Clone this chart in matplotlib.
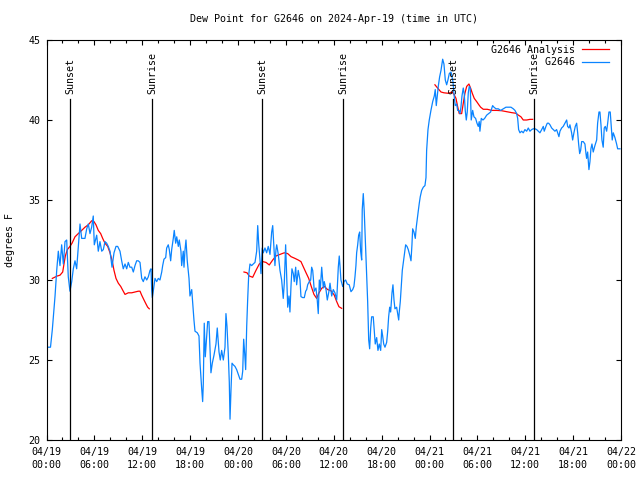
import matplotlib
matplotlib.use('Agg')
import matplotlib.pyplot as plt
from matplotlib.ticker import FixedLocator, MultipleLocator

nan = float('nan')

# hours since 2024-04-19 00:00 UTC, dew point in deg F
obs_hours = [0.00, 0.50, 0.73, 1.07, 1.28, 1.48, 1.69, 1.90, 2.11, 2.32, 2.53, 2.73, 2.94, 3.16, 3.36, 3.57,
             3.78, 3.98, 4.20, 4.41, 4.82, 5.04, 5.24, 5.45, 5.66, 5.86, 5.99, 6.29, 6.49, 6.70, 6.92, 7.12,
             7.33, 7.54, 7.74, 7.96, 8.21, 8.46, 8.71, 8.92, 9.21, 9.42, 9.62, 9.84, 10.05, 10.25, 10.46, 10.68,
             10.88, 11.09, 11.30, 11.50, 11.72, 11.93, 12.13, 12.34, 12.56, 12.76, 12.97, 13.10, 13.18, 13.26,
             13.38, 13.60, 13.81, 14.01, 14.22, 14.44, 14.56, 14.72, 14.94, 15.06, 15.26, 15.39, 15.56, 15.69,
             15.89, 16.01, 16.19, 16.32, 16.52, 16.64, 16.85, 16.94, 17.14, 17.23, 17.36, 17.48, 17.64, 17.86,
             17.98, 18.20, 18.32, 18.48, 18.61, 18.90, 19.11, 19.24, 19.45, 19.57, 19.65, 19.77, 19.90, 20.08,
             20.20, 20.36, 20.49, 20.61, 20.78, 20.99, 21.24, 21.40, 21.62, 21.78, 21.95, 22.16, 22.37, 22.49,
             22.62, 22.78, 22.91, 23.00, 23.12, 23.25, 23.41, 23.62, 23.83, 24.04, 24.25, 24.46, 24.59, 24.71,
             24.84, 24.96, 25.09, 25.21, 25.34, 25.50, 25.71, 25.91, 26.13, 26.34, 26.47, 26.59, 26.75, 26.88,
             27.04, 27.17, 27.38, 27.59, 27.79, 28.01, 28.22, 28.35, 28.47, 28.63, 28.76, 28.85, 29.05, 29.26,
             29.47, 29.67, 29.80, 29.97, 30.10, 30.23, 30.39, 30.51, 30.64, 30.76, 30.93, 31.05, 31.23, 31.35,
             31.55, 31.77, 31.89, 32.11, 32.31, 32.48, 32.61, 32.73, 32.93, 33.11, 33.23, 33.36, 33.43, 33.56,
             33.77, 33.93, 34.06, 34.19, 34.31, 34.49, 34.69, 34.81, 35.03, 35.19, 35.40, 35.53, 35.74, 35.94,
             36.15, 36.37, 36.57, 36.69, 36.78, 36.90, 37.12, 37.19, 37.28, 37.49, 37.69, 37.94, 38.16, 38.37,
             38.53, 38.66, 38.78, 38.87, 39.00, 39.12, 39.25, 39.37, 39.50, 39.57, 39.70, 39.82, 39.95, 40.08,
             40.25, 40.38, 40.50, 40.63, 40.75, 40.95, 41.08, 41.20, 41.38, 41.54, 41.70, 41.88, 42.01, 42.13,
             42.26, 42.42, 42.63, 42.76, 42.88, 43.01, 43.13, 43.30, 43.42, 43.55, 43.67, 43.88, 44.01, 44.14,
             44.21, 44.34, 44.46, 44.59, 44.76, 44.89, 45.01, 45.18, 45.34, 45.55, 45.68, 45.80, 45.89, 46.05,
             46.22, 46.34, 46.47, 46.59, 46.72, 46.84, 47.02, 47.22, 47.43, 47.56, 47.64, 47.81, 47.97, 48.18,
             48.40, 48.60, 48.72, 48.85, 48.97, 49.10, 49.27, 49.44, 49.65, 49.81, 49.98, 50.15, 50.31, 50.48,
             50.69, 50.81, 50.94, 51.07, 51.23, 51.40, 51.53, 51.69, 51.82, 51.94, 52.07, 52.23, 52.36, 52.48,
             52.61, 52.73, 52.86, 52.98, 53.11, 53.23, 53.41, 53.57, 53.78, 53.95, 54.11, 54.23, 54.32, 54.49,
             54.70, 54.91, 55.16, 55.41, 55.66, 55.91, 56.08, 56.33, 56.62, 56.92, 57.24, 57.58, 57.87, 58.21,
             58.50, 58.71, 58.92, 59.05, 59.17, 59.34, 59.55, 59.75, 59.96, 60.18, 60.38, 60.59, 60.80, 61.00,
             61.22, 61.43, 61.63, 61.84, 62.06, 62.26, 62.38, 62.59, 62.76, 62.93, 63.10, 63.31, 63.51, 63.72,
             63.93, 64.06, 64.22, 64.35, 64.56, 64.76, 64.98, 65.19, 65.31, 65.48, 65.60, 65.81, 65.94, 66.10,
             66.27, 66.44, 66.57, 66.69, 66.82, 66.94, 67.07, 67.27, 67.48, 67.61, 67.69, 67.82, 67.98, 68.11,
             68.23, 68.36, 68.52, 68.73, 68.95, 69.07, 69.24, 69.36, 69.49, 69.61, 69.77, 69.90, 70.03, 70.20,
             70.33, 70.49, 70.65, 70.78, 70.90, 71.03, 71.24, 71.45, 71.58, 71.87]
obs_dewpt = [25.8, 25.8, 26.9, 29.0, 30.6, 31.8, 30.9, 32.2, 31.0, 32.4, 32.5, 30.2, 29.3, 29.9, 30.7, 31.2,
             30.7, 32.0, 33.5, 32.6, 32.6, 33.2, 33.5, 32.9, 33.3, 34.0, 32.2, 32.8, 31.8, 32.4, 31.8, 31.9,
             32.4, 32.3, 32.1, 31.8, 30.8, 31.7, 32.1, 32.1, 31.8, 31.2, 30.7, 31.0, 30.7, 31.1, 30.8, 30.8,
             30.5, 30.9, 31.2, 31.2, 31.1, 30.1, 29.9, 30.2, 30.0, 30.2, 30.6, 30.7, 29.4, 28.9,
             29.3, 30.1, 29.9, 30.1, 30.0, 30.5, 30.9, 31.3, 31.4, 32.0, 32.2, 31.9, 31.2, 31.9,
             32.6, 33.1, 32.3, 32.7, 32.1, 32.5, 31.8, 30.9, 31.8, 30.8, 31.9, 32.5, 31.2, 30.1,
             29.0, 29.4, 28.6, 27.5, 26.8, 26.7, 26.5, 24.8, 23.2, 22.4, 23.5, 27.3, 25.2, 26.5,
             27.4, 27.4, 25.8, 24.2, 24.8, 25.3, 26.0, 27.0, 25.5, 25.0, 25.6, 25.0, 25.8, 27.9,
             27.1, 25.4, 23.6, 21.3, 23.1, 24.8, 24.7, 24.6, 24.4, 24.1, 23.8, 23.8, 24.3, 26.3,
             25.4, 24.4, 27.1, 28.75, 30.3, 31.0, 30.9, 31.0, 31.1, 31.8, 33.4, 32.3, 31.3, 30.4,
             32.0, 31.7, 32.0, 31.7, 32.1, 31.6, 33.0, 33.4, 32.3, 30.9, 31.9, 32.2, 31.6, 30.6,
             30.0, 28.85, 29.8, 32.2, 30.2, 28.3, 29.0, 28.0, 29.6, 30.7, 30.4, 29.9, 30.8, 29.7,
             30.6, 30.0, 28.96, 28.9, 28.9, 29.3, 29.4, 29.7, 29.9, 30.0, 30.8, 30.6, 30.2, 29.3,
             29.5, 28.75, 27.9, 30.0, 29.4, 30.8, 29.5, 29.9, 29.4, 28.75, 29.3, 29.8, 29.0, 29.4,
             29.2, 28.75, 30.8, 31.5, 30.9, 30.0, 29.6, 29.6, 29.9, 30.0, 29.75, 29.7, 29.27, 29.4,
             29.6, 30.2, 30.9, 31.7, 32.2, 32.8, 33.0, 31.8, 31.25, 34.4, 35.4, 34.3, 32.6, 30.8,
             28.65, 26.25, 25.7, 27.0, 27.7, 27.7, 26.8, 26.0, 26.4, 25.6, 26.0, 25.6, 26.9, 26.5,
             26.0, 25.8, 26.1, 26.8, 27.7, 28.3, 28.0, 29.2, 29.7, 28.75, 28.2, 28.3, 27.9, 27.5,
             28.0, 28.65, 29.6, 30.6, 31.25, 31.7, 32.2, 32.1, 31.9, 31.5, 31.2, 32.2, 33.2, 33.0,
             32.6, 33.3, 33.85, 34.3, 34.8, 35.2, 35.6, 35.8, 35.9, 36.4, 38.1, 39.4, 40.0, 40.6,
             41.15, 41.5, 41.9, 40.9, 41.5, 42.1, 42.7, 43.1, 43.8, 43.5, 42.5, 42.2, 42.5, 42.9,
             43.0, 42.7, 42.4, 41.6, 40.9, 41.0, 40.6, 40.6, 40.4, 40.8, 41.5, 42.0, 41.6, 40.6,
             40.0, 40.5, 41.7, 42.1, 42.0, 40.0, 40.6, 40.2, 40.1, 39.8, 39.6, 39.9, 39.3, 40.1,
             40.0, 40.1, 40.3, 40.4, 40.5, 40.9, 40.8, 40.7, 40.7, 40.6, 40.7, 40.8, 40.8, 40.8,
             40.7, 40.6, 40.4, 40.1, 39.4, 39.2, 39.3, 39.2, 39.4, 39.3, 39.5, 39.3, 39.4, 39.45,
             39.45, 39.4, 39.3, 39.2, 39.4, 39.6, 39.3, 39.6, 39.8, 39.8, 39.7, 39.5, 39.4, 39.3,
             39.4, 39.2, 38.96, 39.3, 39.5, 39.6, 39.8, 40.0, 39.6, 39.5, 39.7, 39.2, 38.75, 39.2,
             39.6, 39.8, 39.2, 38.5, 37.9, 38.1, 38.65, 38.65, 38.5, 37.9, 37.6, 38.0, 36.9, 37.4,
             38.2, 38.5, 38.0, 38.4, 38.75, 39.8, 40.5, 40.5, 39.7, 38.75, 38.3, 39.5, 39.6, 39.3,
             39.8, 40.5, 40.5, 39.6, 38.75, 39.2, 38.9, 38.5, 38.2, 38.2]

# analysis, nan separates the three runs
ana_hours = [0.73, 1.35, 1.69, 2.03, 2.19, 2.36, 2.61, 2.94, 3.20, 3.57, 3.98, 4.41, 4.82, 5.24, 5.66, 5.95,
             6.20, 6.49, 6.79, 7.04, 7.33, 7.67, 7.96, 8.25, 8.46, 8.71, 9.00, 9.30, 9.62, 9.84, 10.25, 10.68,
             11.09, 11.50, 11.72, 11.93, 12.22, 12.47, 12.68, 12.88, nan,
             24.75, 25.13, 25.41, 25.84, 26.25, 26.67, 27.09, 27.51, 27.92, 28.35, 28.76, 29.26, 29.80, 30.23,
             30.64, 31.14, 31.55, 31.89, 32.18, 32.52, 32.86, 33.18, 33.52, 33.86, 34.15, 34.49, 34.81, 35.24,
             35.65, 36.06, 36.37, 36.65, 36.99, nan,
             48.68, 49.18, 49.44, 49.81, 50.35, 50.81, 51.07, 51.32, 51.53, 51.73, 52.03, 52.23, 52.44, 52.66,
             52.94, 53.16, 53.36, 53.61, 53.91, 54.20, 54.41, 54.74, 55.24, 55.79, 56.42, 57.04, 57.67, 58.30,
             58.84, 59.12, 59.46, 59.75, 60.18, 60.59, 60.93]
ana_dewpt = [30.1, 30.25, 30.3, 30.5, 31.0, 31.5, 31.9, 32.1, 32.3, 32.7, 32.9, 33.1, 33.3, 33.45, 33.7, 33.65,
             33.45, 33.1, 32.9, 32.6, 32.3, 32.1, 31.7, 31.15, 30.6, 30.1, 29.8, 29.6, 29.3, 29.1, 29.2, 29.2,
             29.25, 29.3, 29.3, 29.05, 28.75, 28.5, 28.3, 28.2, nan,
             30.5, 30.45, 30.25, 30.17, 30.6, 31.0, 31.15, 31.1, 30.94, 31.25, 31.5, 31.6, 31.7, 31.65,
             31.46, 31.35, 31.25, 31.15, 30.83, 30.46, 30.1, 29.6, 29.1, 28.85, 29.2, 29.48, 29.6, 29.4,
             29.33, 29.06, 28.65, 28.33, 28.23, nan,
             42.2, 41.9, 41.75, 41.7, 41.67, 41.75, 41.6, 41.35, 40.83, 40.4, 40.4, 41.04, 41.67, 42.1,
             42.25, 41.98, 41.67, 41.35, 41.15, 40.94, 40.8, 40.67, 40.67, 40.6, 40.6, 40.58, 40.52, 40.46,
             40.42, 40.31, 40.2, 40.0, 40.0, 40.04, 40.04]

sun_names = ['Sunset', 'Sunrise', 'Sunset', 'Sunrise', 'Sunset', 'Sunrise']
sun_hours = [2.98, 13.26, 27.05, 37.19, 50.98, 61.13]

xtick_hours = [0, 6, 12, 18, 24, 30, 36, 42, 48, 54, 60, 66, 72]
xtick_labels = ['04/19\n00:00', '04/19\n06:00', '04/19\n12:00', '04/19\n18:00',
                '04/20\n00:00', '04/20\n06:00', '04/20\n12:00', '04/20\n18:00',
                '04/21\n00:00', '04/21\n06:00', '04/21\n12:00', '04/21\n18:00',
                '04/22\n00:00']

plt.rcParams['font.family'] = ['DejaVu Sans Mono']
plt.rcParams['font.size'] = 7.2

fig = plt.figure(figsize=(6.4, 4.8), dpi=100)
ax = fig.add_axes([46.5 / 640, 40 / 480, (621 - 46.5) / 640, 400 / 480])

ax.plot(ana_hours, ana_dewpt, color='#ff0000', lw=0.9, label='G2646 Analysis')
ax.plot(obs_hours, obs_dewpt, color='#0a84ff', lw=0.9, label='         G2646')

for name, h in zip(sun_names, sun_hours):
    ax.plot([h, h], [20, 41.3], color='black', lw=0.9)
    ax.text(h, 41.65, name, rotation=90, ha='center', va='bottom')

ax.set_xlim(0, 72)
ax.set_ylim(20, 45)
ax.xaxis.set_major_locator(FixedLocator(xtick_hours))
ax.set_xticklabels(xtick_labels, linespacing=1.35)
ax.xaxis.set_minor_locator(MultipleLocator(2))
ax.yaxis.set_major_locator(MultipleLocator(5))
ax.tick_params(which='both', direction='in', top=True, right=True, width=0.8)
ax.tick_params(which='major', length=3.4)
ax.tick_params(which='minor', length=1.9)
ax.tick_params(axis='x', pad=5)
ax.tick_params(axis='y', pad=4.5)
for s in ax.spines.values():
    s.set_linewidth(0.8)

ax.set_title('Dew Point for G2646 on 2024-Apr-19 (time in UTC)', fontsize=7.2, pad=13)
ax.set_ylabel('degrees F')
ax.yaxis.set_label_coords(-0.055, 0.5)

ax.legend(loc='upper right', bbox_to_anchor=(0.988, 1.0), frameon=False, markerfirst=False,
          handlelength=2.7, handletextpad=0.7, labelspacing=0.25, borderaxespad=0.3, borderpad=0.2)

fig.savefig('out.png', dpi=100)
